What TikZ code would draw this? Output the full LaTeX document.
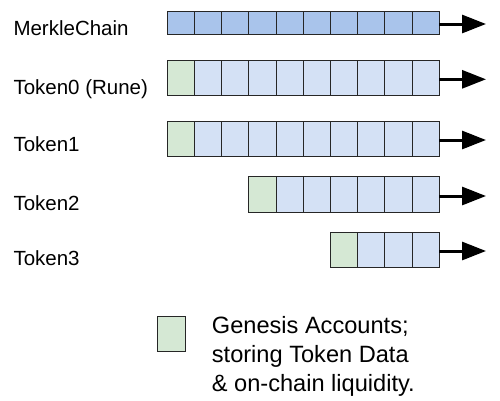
\documentclass[tikz,border=0pt]{standalone}
\usepackage{fontspec}
\setmainfont{Liberation Sans}
\usetikzlibrary{arrows.meta}
\definecolor{chainblue}{HTML}{A9C4EB}
\definecolor{tokblue}{HTML}{D4E1F5}
\definecolor{genesis}{HTML}{D5E8D4}
\begin{document}
\begin{tikzpicture}[x=1pt,y=-1pt,
  cell/.style={draw=black!85, line width=0.9pt, minimum width=27.2pt, inner sep=0pt, outer sep=0pt, anchor=north west},
  lbl/.style={anchor=base west, inner sep=0pt, font=\fontsize{20.5}{24}\selectfont},
  legtext/.style={anchor=base west, inner sep=0pt, font=\fontsize{23.6}{28}\selectfont},
  flow/.style={line width=3pt, -{Triangle[length=24pt,width=18pt]}}]
\useasboundingbox (0,0) rectangle (500,400);
% row 1: MerkleChain
\foreach \i in {0,...,9}
  \node[cell, fill=chainblue, minimum height=22.6pt] (a\i) at ({167.3+27.2*\i},11.7) {};
% row 2: Token0
\node[cell, fill=genesis, minimum height=35pt] (b0) at (167.3,60.7) {};
\foreach \i in {1,...,9}
  \node[cell, fill=tokblue, minimum height=35pt] (b\i) at ({167.3+27.2*\i},60.7) {};
% row 3: Token1
\node[cell, fill=genesis, minimum height=34.5pt] (c0) at (167.3,121.7) {};
\foreach \i in {1,...,9}
  \node[cell, fill=tokblue, minimum height=34.5pt] (c\i) at ({167.3+27.2*\i},121.7) {};
% row 4: Token2
\node[cell, fill=genesis, minimum height=35.5pt] (d3) at ({167.3+27.2*3},176.7) {};
\foreach \i in {4,...,9}
  \node[cell, fill=tokblue, minimum height=35.5pt] (d\i) at ({167.3+27.2*\i},176.7) {};
% row 5: Token3
\node[cell, fill=genesis, minimum height=35pt] (e6) at ({167.3+27.2*6},232.7) {};
\foreach \i in {7,...,9}
  \node[cell, fill=tokblue, minimum height=35pt] (e\i) at ({167.3+27.2*\i},232.7) {};
% arrows
\coordinate (ta) at (486,24);
\coordinate (tb) at (486,79.3);
\coordinate (tc) at (486,140);
\coordinate (td) at (486,196);
\coordinate (te) at (486,251);
\draw[flow] (a9.east |- ta) -- (ta);
\draw[flow] (b9.east |- tb) -- (tb);
\draw[flow] (c9.east |- tc) -- (tc);
\draw[flow] (d9.east |- td) -- (td);
\draw[flow] (e9.east |- te) -- (te);
% labels
\node[lbl] (la) at (13.3,35) {MerkleChain};
\node[lbl] (lb) at (13.3,94.3) {Token0 (Rune)};
\node[lbl] (lc) at (13.3,151) {Token1};
\node[lbl] (ld) at (13.3,210) {Token2};
\node[lbl] (le) at (13.3,265.7) {Token3};
% legend
\node[cell, fill=genesis, minimum width=28.4pt, minimum height=35pt] (leg) at (157.3,316.7) {};
\node[legtext] (leg1) at (211.7,333.3) {Genesis Accounts;};
\node[legtext] (leg2) at (211.7,362.3) {storing Token Data};
\node[legtext] (leg3) at (211.7,391) {\& on-chain liquidity.};
\end{tikzpicture}
\end{document}
